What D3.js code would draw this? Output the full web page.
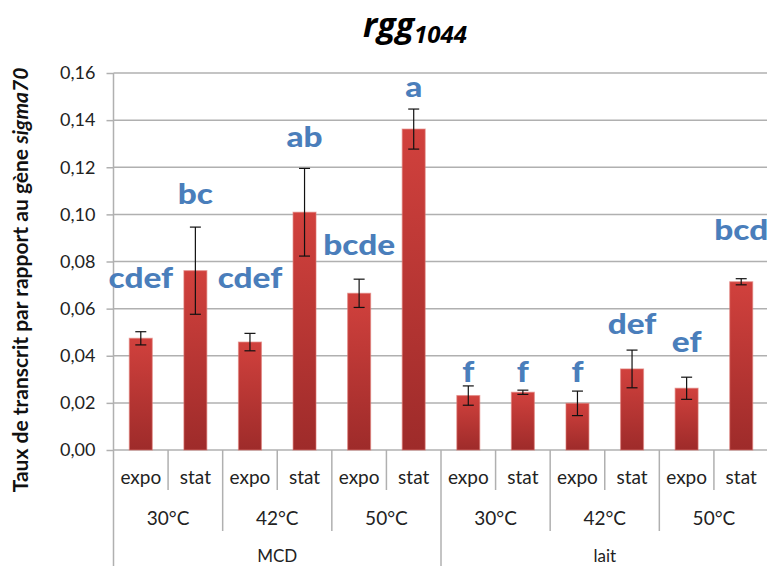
<!DOCTYPE html>
<html>
<head>
<meta charset="utf-8">
<script src="https://cdn.jsdelivr.net/npm/d3@7"></script>
<style>
  html, body { margin: 0; padding: 0; background: #fff; }
  svg { display: block; }
</style>
</head>
<body>
<svg id="chart" width="767" height="566"></svg>
<script>
// Growth phase per bar, temperature groups, culture media
const phases = ["expo", "stat", "expo", "stat", "expo", "stat", "expo", "stat", "expo", "stat", "expo", "stat"];
const temperatures = ["30°C", "42°C", "50°C", "30°C", "42°C", "50°C"];
const media = ["MCD", "lait"];

// Transcript ratio vs sigma70 and standard error
const values = [0.0474, 0.0761, 0.0458, 0.1009, 0.0665, 0.1362, 0.0231, 0.0245, 0.0198, 0.0344, 0.0262, 0.0714];
const errors = [0.0028, 0.0185, 0.0037, 0.0186, 0.0060, 0.0085, 0.0041, 0.0009, 0.0052, 0.0080, 0.0047, 0.0013];

// Statistical groups and the level where each letter sits
const letters = ["cdef", "bc", "cdef", "ab", "bcde", "a", "f", "f", "f", "def", "ef", "bcd"];
const letterLevels = [0.0688, 0.1044, 0.0688, 0.1286, 0.0828, 0.1498, 0.0289, 0.0289, 0.0289, 0.0492, 0.0416, 0.0891];

const yTicks = [0, 0.02, 0.04, 0.06, 0.08, 0.10, 0.12, 0.14, 0.16];

const svg = d3.select("#chart");
const W = 767, H = 566;
const plotLeft = 113.5, plotRight = 768.5, plotTop = 73, plotBottom = 450;

const x = d3.scaleBand().domain(d3.range(values.length)).range([plotLeft, plotRight]).padding(0);
const y = d3.scaleLinear().domain([0, 0.16]).range([plotBottom, plotTop]);
const fmt = v => d3.format(".2f")(v).replace(".", ",");

const defs = svg.append("defs");
const grad = defs.append("linearGradient").attr("id", "barFill")
  .attr("x1", 0).attr("y1", 0).attr("x2", 0).attr("y2", 1);
grad.append("stop").attr("offset", "0%").attr("stop-color", "#d1413d");
grad.append("stop").attr("offset", "100%").attr("stop-color", "#9e2b2a");

const font = "Lato, 'Open Sans', sans-serif";
const gridColor = "#b0b0b0";

// Gridlines
svg.append("g").selectAll("line").data(yTicks).join("line")
  .attr("x1", plotLeft).attr("x2", W)
  .attr("y1", d => y(d)).attr("y2", d => y(d))
  .attr("stroke", gridColor).attr("stroke-width", 1.5);

// Y axis
const yAxis = d3.axisLeft(y).tickValues(yTicks).tickFormat(fmt).tickSize(7).tickPadding(11);
const gy = svg.append("g").attr("transform", `translate(${plotLeft},0)`).call(yAxis);
gy.select(".domain").remove();
gy.selectAll(".tick line").attr("stroke", gridColor).attr("stroke-width", 1.5);
gy.selectAll(".tick text").attr("font-family", font).attr("font-size", 18).attr("fill", "#222");
svg.append("line").attr("x1", plotLeft).attr("x2", plotLeft).attr("y1", plotTop).attr("y2", H)
  .attr("stroke", gridColor).attr("stroke-width", 1.5);

// Category separators: phase, temperature group, medium
const sepData = d3.range(1, values.length).map(i => ({
  x: x(i),
  y2: i % 6 === 0 ? H : (i % 2 === 0 ? 531 : 490)
}));
svg.append("g").selectAll("line").data(sepData).join("line")
  .attr("x1", d => d.x).attr("x2", d => d.x)
  .attr("y1", plotBottom).attr("y2", d => d.y2)
  .attr("stroke", gridColor).attr("stroke-width", 1.5);

// Bars
const bw = x.bandwidth() * 0.42;
svg.append("g").selectAll("rect").data(values).join("rect")
  .attr("x", (d, i) => x(i) + (x.bandwidth() - bw) / 2)
  .attr("y", d => y(d))
  .attr("width", bw)
  .attr("height", d => y(0) - y(d))
  .attr("fill", "url(#barFill)")
  .attr("stroke", "rgba(222,120,115,0.55)").attr("stroke-width", 1.2);

// Error bars
const cx = i => x(i) + x.bandwidth() / 2;
const eg = svg.append("g").attr("stroke", "#111").attr("stroke-width", 1.2);
values.forEach((v, i) => {
  const y1 = y(v + errors[i]), y2 = y(v - errors[i]);
  eg.append("line").attr("x1", cx(i)).attr("x2", cx(i)).attr("y1", y1).attr("y2", y2);
  eg.append("line").attr("x1", cx(i) - 5.5).attr("x2", cx(i) + 5.5).attr("y1", y1).attr("y2", y1);
  eg.append("line").attr("x1", cx(i) - 5.5).attr("x2", cx(i) + 5.5).attr("y1", y2).attr("y2", y2);
});

// Group letters
svg.append("g").selectAll("text").data(letters).join("text")
  .attr("transform", (d, i) => `translate(${cx(i)},${y(letterLevels[i])}) scale(1.15,1)`)
  .attr("text-anchor", "middle")
  .attr("font-family", font).attr("font-weight", 900).attr("font-size", 29)
  .attr("fill", "#4a7ebb")
  .text(d => d);

// X labels: phase row
svg.append("g").selectAll("text").data(phases).join("text")
  .attr("x", (d, i) => cx(i)).attr("y", 484)
  .attr("text-anchor", "middle")
  .attr("font-family", font).attr("font-size", 19).attr("fill", "#222")
  .text(d => d);

// Temperature row
svg.append("g").selectAll("text").data(temperatures).join("text")
  .attr("x", (d, i) => x(i * 2) + x.bandwidth()).attr("y", 525)
  .attr("text-anchor", "middle")
  .attr("font-family", font).attr("font-size", 19).attr("fill", "#222")
  .text(d => d);

// Medium row
svg.append("g").selectAll("text").data(media).join("text")
  .attr("x", (d, i) => x(i * 6) + x.bandwidth() * 3).attr("y", 562)
  .attr("text-anchor", "middle")
  .attr("font-family", font).attr("font-size", 17).attr("fill", "#222")
  .text(d => d);

// Y axis title
const yt = svg.append("text")
  .attr("transform", "translate(28,280) rotate(-90)")
  .attr("text-anchor", "middle")
  .attr("font-family", font).attr("font-weight", 700).attr("font-size", 21).attr("fill", "#111");
yt.append("tspan").text("Taux de transcrit par rapport au gène ");
yt.append("tspan").attr("font-style", "italic").text("sigma70");

// Chart title
const tt = svg.append("text").attr("x", 363).attr("y", 37)
  .attr("font-family", "'Open Sans', sans-serif").attr("font-weight", 700).attr("font-style", "italic")
  .attr("font-size", 34).attr("fill", "#000");
tt.append("tspan").text("rgg");
tt.append("tspan").attr("font-size", 24).attr("dy", 6).text("1044");
</script>
</body>
</html>
